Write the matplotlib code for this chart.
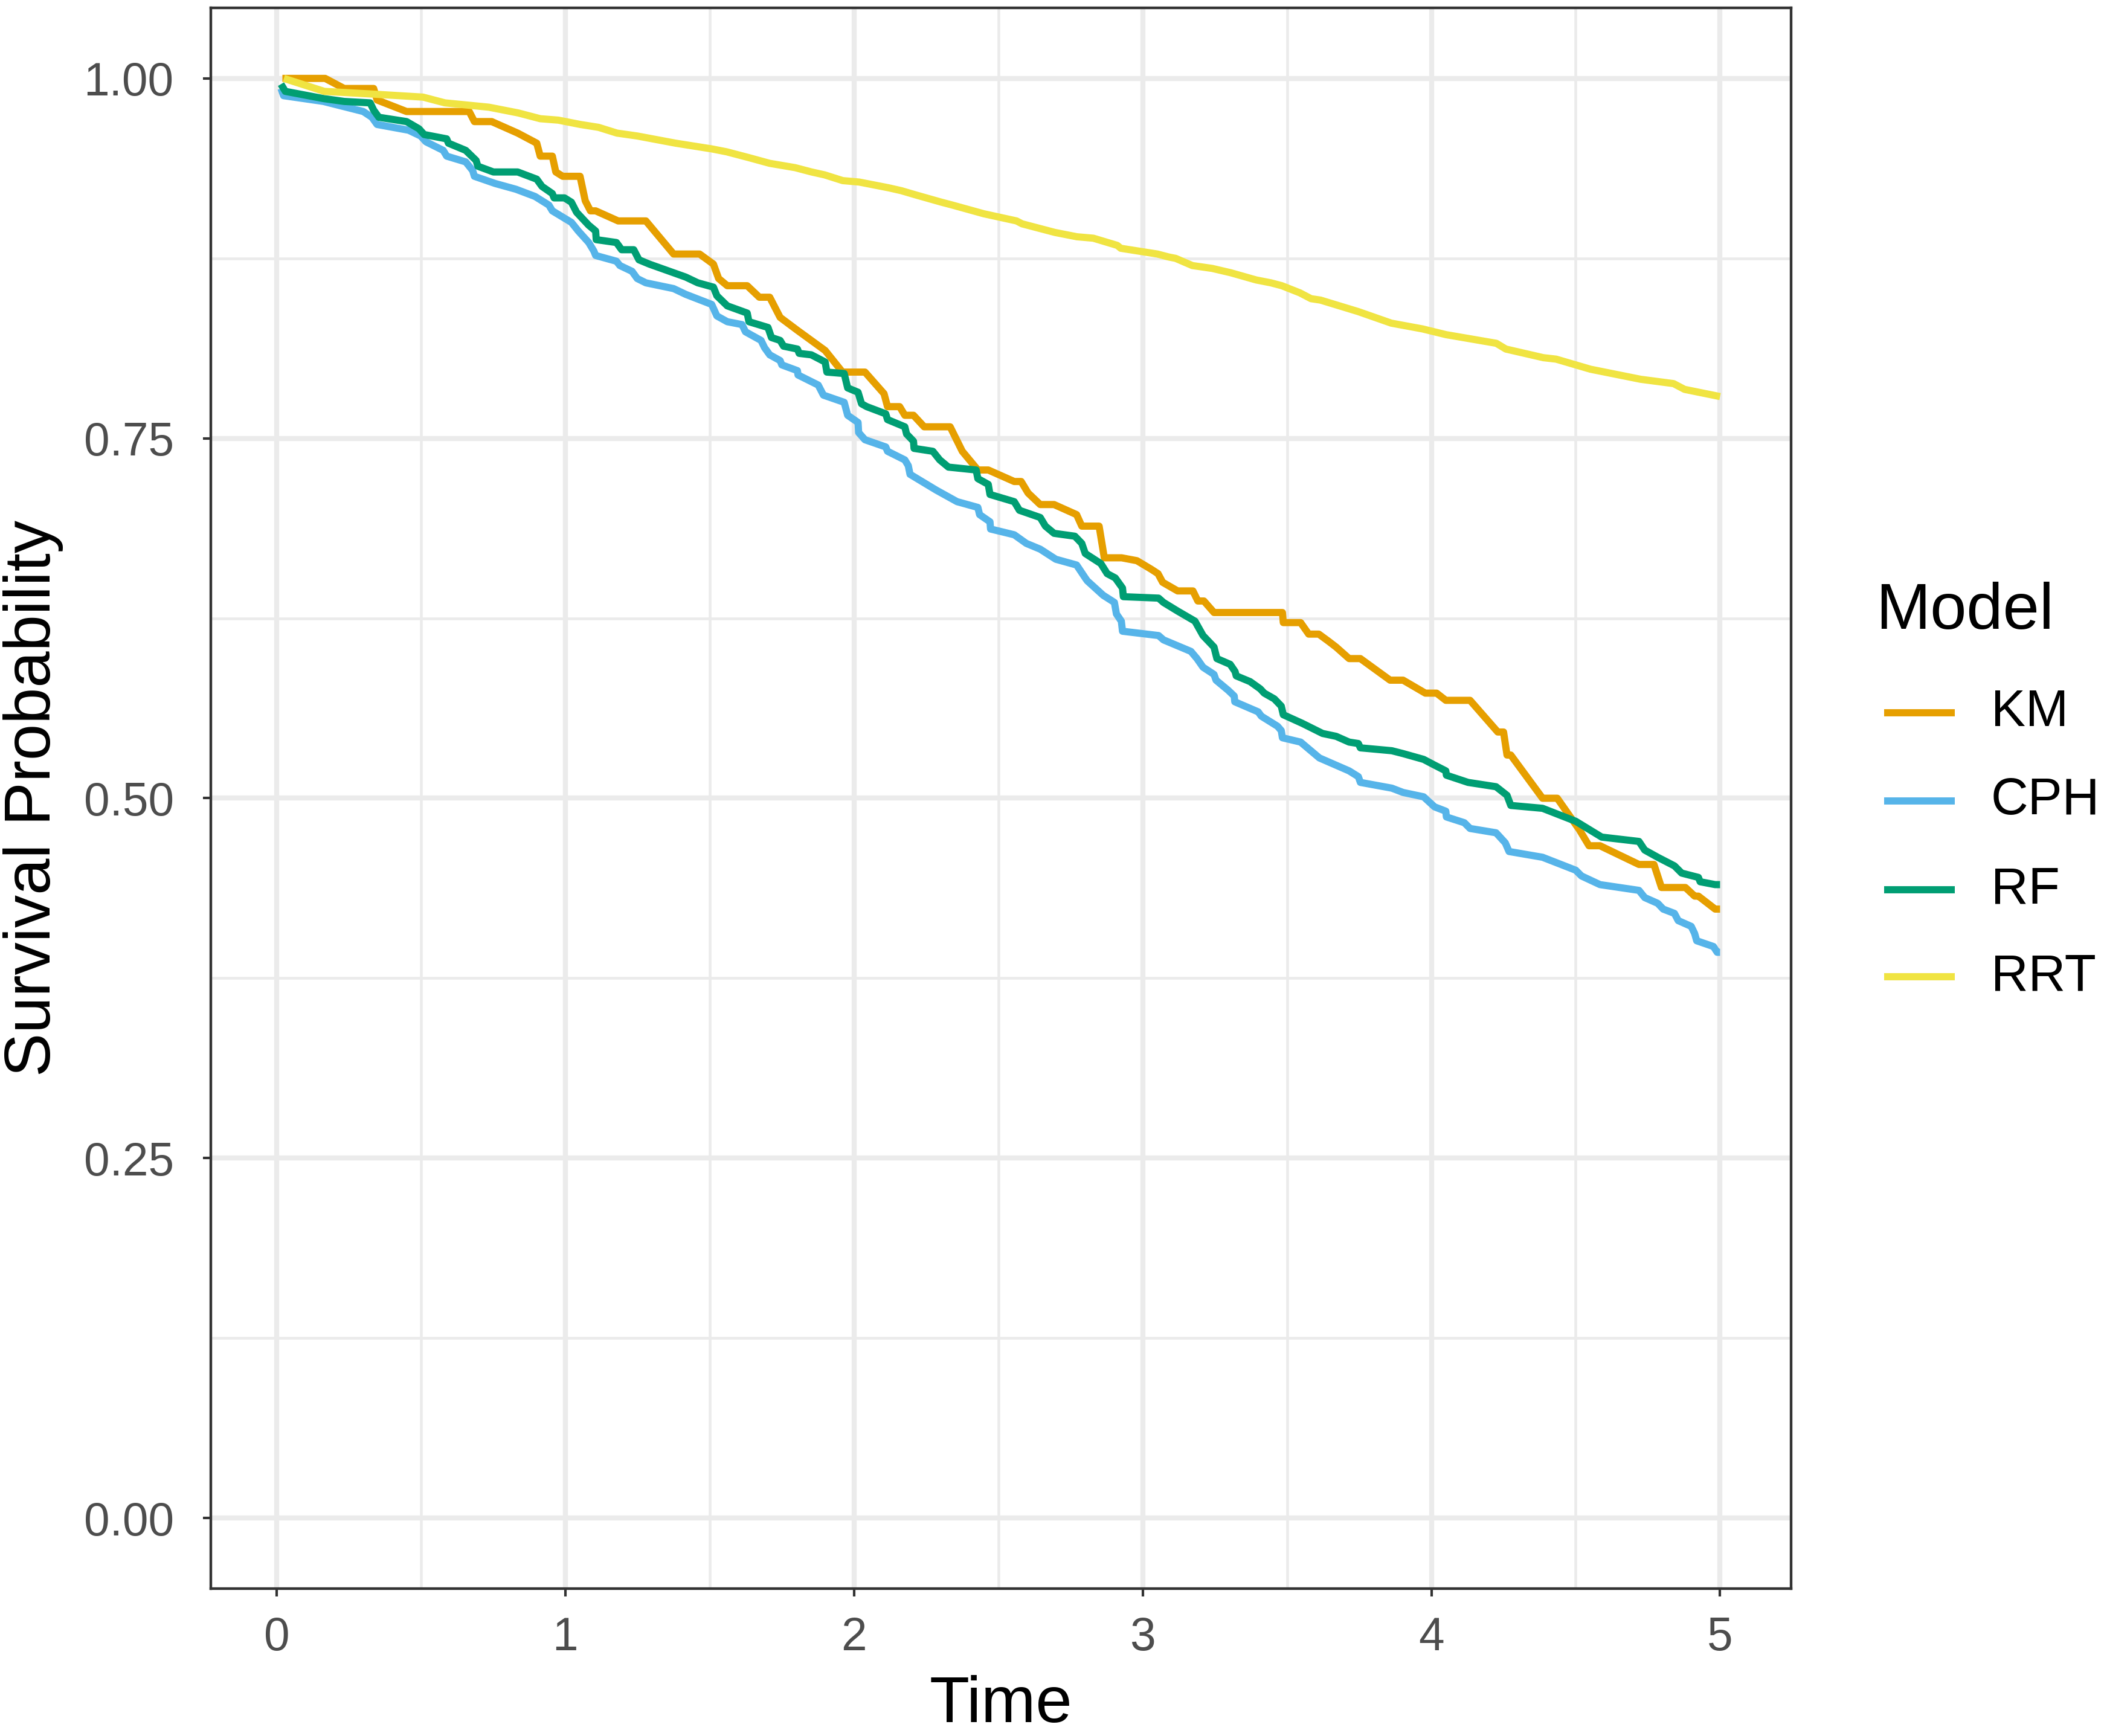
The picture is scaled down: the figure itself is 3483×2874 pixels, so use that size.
import numpy as np
import matplotlib
matplotlib.use("Agg")
import matplotlib.pyplot as plt
from matplotlib.lines import Line2D

plt.rcParams['font.family'] = ['Liberation Sans', 'DejaVu Sans']

models = ["KM", "CPH", "RF", "RRT"]
colors = ["#E69F00", "#56B4E9", "#009E73", "#F0E442"]

km_time = [0.02, 0.168, 0.234, 0.336, 0.348, 0.45, 0.667, 0.685, 0.745, 0.835, 0.901, 0.913,
           0.955, 0.967, 0.991, 1.051, 1.069, 1.087, 1.105, 1.183, 1.279, 1.375, 1.465, 1.513,
           1.531, 1.561, 1.630, 1.672, 1.708, 1.744, 1.804, 1.852, 1.900, 1.960, 2.038, 2.104,
           2.116, 2.158, 2.176, 2.206, 2.243, 2.333, 2.375, 2.429, 2.465, 2.555, 2.579, 2.603,
           2.645, 2.693, 2.771, 2.789, 2.849, 2.867, 2.927, 2.98, 3.03, 3.053, 3.069, 3.121,
           3.174, 3.191, 3.212, 3.247, 3.484, 3.487, 3.547, 3.575, 3.610, 3.644, 3.670, 3.715,
           3.754, 3.857, 3.902, 3.979, 4.018, 4.050, 4.134, 4.230, 4.250, 4.262, 4.275, 4.385,
           4.436, 4.513, 4.546, 4.584, 4.719, 4.771, 4.797, 4.880, 4.912, 4.925, 4.983, 5.0]
km_surv = [1.0, 1.0, 0.993, 0.993, 0.985, 0.977, 0.977, 0.970, 0.970, 0.962, 0.955, 0.946,
           0.946, 0.935, 0.932, 0.932, 0.915, 0.908, 0.908, 0.901, 0.901, 0.878, 0.878, 0.871,
           0.861, 0.856, 0.856, 0.848, 0.848, 0.834, 0.825, 0.818, 0.811, 0.796, 0.796, 0.781,
           0.772, 0.772, 0.766, 0.766, 0.758, 0.758, 0.741, 0.728, 0.728, 0.720, 0.720, 0.712,
           0.704, 0.704, 0.697, 0.689, 0.689, 0.667, 0.667, 0.665, 0.659, 0.656, 0.650, 0.644,
           0.644, 0.637, 0.637, 0.629, 0.629, 0.622, 0.622, 0.614, 0.614, 0.609, 0.605, 0.597,
           0.597, 0.582, 0.582, 0.573, 0.573, 0.568, 0.568, 0.546, 0.546, 0.530, 0.530, 0.500,
           0.500, 0.478, 0.467, 0.467, 0.454, 0.454, 0.438, 0.438, 0.432, 0.432, 0.423, 0.423]

cph_time = [0.015, 0.024, 0.162, 0.300, 0.330, 0.348, 0.457, 0.499, 0.517, 0.577, 0.589, 0.655,
            0.679, 0.685, 0.757, 0.829, 0.895, 0.943, 0.955, 1.021, 1.045, 1.081, 1.099, 1.105,
            1.177, 1.189, 1.231, 1.249, 1.279, 1.375, 1.417, 1.507, 1.525, 1.561, 1.612, 1.624,
            1.678, 1.690, 1.708, 1.744, 1.750, 1.804, 1.806, 1.876, 1.894, 1.966, 1.978, 2.014,
            2.016, 2.038, 2.110, 2.116, 2.176, 2.188, 2.194, 2.285, 2.357, 2.429, 2.435, 2.471,
            2.473, 2.555, 2.597, 2.645, 2.699, 2.771, 2.801, 2.808, 2.863, 2.902, 2.909, 2.926,
            2.930, 3.055, 3.072, 3.167, 3.188, 3.209, 3.247, 3.254, 3.296, 3.317, 3.319, 3.400,
            3.411, 3.467, 3.480, 3.484, 3.547, 3.612, 3.715, 3.747, 3.754, 3.863, 3.902, 3.973,
            4.011, 4.050, 4.052, 4.114, 4.134, 4.224, 4.256, 4.269, 4.385, 4.500, 4.520, 4.584,
            4.719, 4.739, 4.784, 4.803, 4.842, 4.855, 4.900, 4.912, 4.919, 4.977, 4.990, 5.0]
cph_surv = [0.993, 0.988, 0.984, 0.977, 0.973, 0.968, 0.964, 0.960, 0.956, 0.950, 0.946, 0.942,
            0.936, 0.932, 0.927, 0.923, 0.918, 0.912, 0.908, 0.900, 0.894, 0.886, 0.880, 0.877,
            0.873, 0.870, 0.866, 0.861, 0.858, 0.854, 0.850, 0.843, 0.835, 0.831, 0.829, 0.824,
            0.818, 0.813, 0.808, 0.804, 0.801, 0.797, 0.794, 0.787, 0.780, 0.775, 0.766, 0.761,
            0.754, 0.749, 0.744, 0.741, 0.735, 0.731, 0.725, 0.714, 0.706, 0.702, 0.697, 0.692,
            0.687, 0.683, 0.677, 0.673, 0.666, 0.662, 0.653, 0.651, 0.641, 0.636, 0.628, 0.623,
            0.616, 0.613, 0.610, 0.602, 0.597, 0.591, 0.586, 0.582, 0.575, 0.571, 0.567, 0.560,
            0.557, 0.550, 0.547, 0.542, 0.539, 0.528, 0.519, 0.515, 0.511, 0.507, 0.504, 0.501,
            0.494, 0.491, 0.487, 0.483, 0.479, 0.476, 0.469, 0.463, 0.459, 0.450, 0.446, 0.440,
            0.436, 0.431, 0.427, 0.423, 0.420, 0.415, 0.411, 0.406, 0.401, 0.397, 0.393, 0.393]

rf_time = [0.015, 0.030, 0.162, 0.234, 0.324, 0.336, 0.354, 0.450, 0.493, 0.511, 0.589, 0.595,
           0.655, 0.691, 0.697, 0.751, 0.835, 0.901, 0.919, 0.955, 0.961, 0.997, 1.021, 1.039,
           1.081, 1.105, 1.107, 1.177, 1.195, 1.237, 1.255, 1.291, 1.375, 1.417, 1.459, 1.513,
           1.525, 1.561, 1.630, 1.636, 1.702, 1.714, 1.744, 1.756, 1.804, 1.810, 1.852, 1.900,
           1.906, 1.966, 1.978, 2.014, 2.026, 2.044, 2.110, 2.116, 2.176, 2.182, 2.206, 2.208,
           2.273, 2.297, 2.327, 2.423, 2.429, 2.465, 2.471, 2.555, 2.573, 2.645, 2.663, 2.693,
           2.765, 2.789, 2.801, 2.855, 2.877, 2.905, 2.930, 2.933, 3.055, 3.072, 3.121, 3.181,
           3.195, 3.209, 3.247, 3.257, 3.303, 3.320, 3.324, 3.372, 3.407, 3.421, 3.456, 3.480,
           3.487, 3.553, 3.623, 3.670, 3.715, 3.747, 3.754, 3.863, 3.902, 3.973, 4.011, 4.050,
           4.052, 4.127, 4.224, 4.262, 4.275, 4.385, 4.500, 4.590, 4.719, 4.739, 4.784, 4.842,
           4.867, 4.925, 4.931, 4.983, 5.0]
rf_surv = [0.996, 0.991, 0.986, 0.984, 0.983, 0.978, 0.973, 0.970, 0.965, 0.961, 0.958, 0.955,
           0.950, 0.943, 0.939, 0.935, 0.935, 0.930, 0.925, 0.920, 0.917, 0.917, 0.914, 0.907,
           0.898, 0.894, 0.888, 0.886, 0.881, 0.881, 0.874, 0.871, 0.865, 0.862, 0.858, 0.855,
           0.849, 0.842, 0.837, 0.831, 0.827, 0.820, 0.818, 0.814, 0.812, 0.809, 0.808, 0.803,
           0.796, 0.795, 0.785, 0.782, 0.774, 0.772, 0.767, 0.763, 0.758, 0.753, 0.748, 0.743,
           0.741, 0.735, 0.730, 0.728, 0.722, 0.718, 0.711, 0.706, 0.700, 0.695, 0.689, 0.684,
           0.682, 0.677, 0.670, 0.663, 0.656, 0.653, 0.646, 0.640, 0.639, 0.636, 0.630, 0.623,
           0.618, 0.613, 0.605, 0.597, 0.593, 0.588, 0.585, 0.581, 0.576, 0.573, 0.569, 0.564,
           0.558, 0.552, 0.545, 0.543, 0.539, 0.538, 0.535, 0.533, 0.531, 0.527, 0.523, 0.519,
           0.516, 0.511, 0.508, 0.502, 0.495, 0.493, 0.484, 0.473, 0.470, 0.464, 0.459, 0.453,
           0.448, 0.445, 0.442, 0.440, 0.440]

rrt_time = [0.025, 0.165, 0.342, 0.507, 0.583, 0.735, 0.837, 0.913, 0.976, 1.052, 1.115, 1.179,
            1.249, 1.382, 1.508, 1.559, 1.635, 1.708, 1.796, 1.853, 1.898, 1.961, 2.018, 2.120,
            2.164, 2.215, 2.303, 2.341, 2.449, 2.563, 2.582, 2.696, 2.772, 2.829, 2.912, 2.924,
            3.051, 3.089, 3.114, 3.172, 3.241, 3.305, 3.393, 3.444, 3.482, 3.545, 3.583, 3.616,
            3.747, 3.861, 3.969, 4.051, 4.225, 4.258, 4.388, 4.432, 4.551, 4.725, 4.801, 4.839,
            4.877, 4.926, 5.0]
rrt_surv = [1.000, 0.991, 0.989, 0.987, 0.983, 0.980, 0.976, 0.972, 0.971, 0.968, 0.966, 0.962,
            0.960, 0.955, 0.951, 0.949, 0.945, 0.941, 0.938, 0.935, 0.933, 0.929, 0.928, 0.924,
            0.922, 0.919, 0.914, 0.912, 0.906, 0.901, 0.899, 0.893, 0.890, 0.889, 0.884, 0.882,
            0.878, 0.876, 0.875, 0.870, 0.868, 0.865, 0.860, 0.858, 0.856, 0.851, 0.847, 0.846,
            0.838, 0.830, 0.826, 0.822, 0.816, 0.812, 0.806, 0.805, 0.798, 0.791, 0.789, 0.788,
            0.784, 0.782, 0.779]

x_ticks = [0, 1, 2, 3, 4, 5]
y_ticks = [0.0, 0.25, 0.5, 0.75, 1.0]
y_tick_labels = ["0.00", "0.25", "0.50", "0.75", "1.00"]

W, H = 3483, 2874
fig = plt.figure(figsize=(W / 300, H / 300), dpi=300)
ax = fig.add_axes([349 / W, 1 - 2630 / H, (2965 - 349) / W, (2630 - 13) / H])

line_w = 2.85
series = [(km_time, km_surv), (cph_time, cph_surv), (rf_time, rf_surv), (rrt_time, rrt_surv)]
for (t, s), c in zip(series, colors):
    ax.plot(t, s, color=c, lw=line_w, solid_capstyle='butt', solid_joinstyle='round', zorder=3)

ax.set_xlim(-0.228, 5.246)
ax.set_ylim(-0.049, 1.049)
ax.set_xticks(x_ticks)
ax.set_xticklabels([str(v) for v in x_ticks])
ax.set_yticks(y_ticks)
ax.set_yticklabels(y_tick_labels)
ax.set_xticks(np.arange(0.5, 5, 1), minor=True)
ax.set_yticks([0.125, 0.375, 0.625, 0.875], minor=True)

ax.grid(which='major', color='#EBEBEB', lw=2.0, zorder=0)
ax.grid(which='minor', color='#EBEBEB', lw=1.1, zorder=0)
ax.set_axisbelow(True)
for sp in ax.spines.values():
    sp.set_color('#333333')
    sp.set_linewidth(1.05)
ax.tick_params(which='major', length=3.2, width=1.0, color='#333333',
               labelcolor='#4D4D4D', labelsize=18.4)
ax.tick_params(axis='x', pad=7.5)
ax.tick_params(axis='y', pad=11.5)
ax.tick_params(which='minor', length=0)

ax.set_xlabel("Time", fontsize=26, labelpad=6)
ax.set_ylabel("Survival Probability", fontsize=26, labelpad=8)

# legend
fig.text(3105 / W, 1 - 1013 / H, "Model", fontsize=26, ha='left', va='center')
key_y = [1180, 1326, 1473, 1617]
for name, c, ky in zip(models, colors, key_y):
    yf = 1 - ky / H
    fig.add_artist(Line2D([3119 / W, 3236 / W], [yf, yf], color=c, lw=line_w,
                          solid_capstyle='butt', transform=fig.transFigure))
    fig.text(3296 / W, yf, name, fontsize=20.5, ha='left', va='center')

fig.savefig("out.png", dpi=300, facecolor='white')
